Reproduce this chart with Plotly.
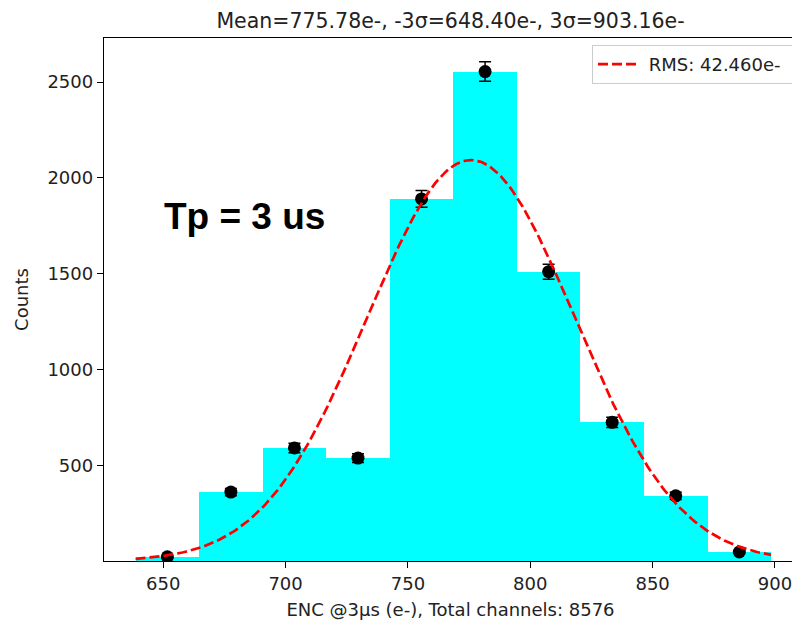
import numpy as np
import plotly.graph_objects as go

# Data
bin_lo = 638.7
bin_width = 25.97
counts = [22, 360, 590, 537, 1890, 2555, 1510, 724, 340, 47]
errors = [4.7, 19.0, 24.3, 23.2, 43.5, 50.5, 38.9, 26.9, 18.4, 6.9]
mean = 775.78
sigma = 42.46
n_total = 8576
x_ticks = [650, 700, 750, 800, 850, 900]
y_ticks = [500, 1000, 1500, 2000, 2500]

centers = [bin_lo + bin_width * (i + 0.5) for i in range(len(counts))]
amp = n_total * bin_width / (sigma * np.sqrt(2 * np.pi))
xf = np.linspace(bin_lo, bin_lo + bin_width * len(counts), 300)
yf = amp * np.exp(-0.5 * ((xf - mean) / sigma) ** 2)

# page body has an 8px default margin; compensate in the layout margins
L, R, T, B = 96, 11, 30, 73
W, H = 800, 626
pw, ph = W - L - R, H - T - B

fig = go.Figure()
fig.add_trace(go.Bar(x=centers, y=counts, width=[bin_width] * len(counts),
                     marker=dict(color="#00FFFF", line=dict(width=0)),
                     showlegend=False, hoverinfo="skip"))
fig.add_trace(go.Scatter(x=centers, y=counts, mode="markers",
                         marker=dict(color="black", size=13),
                         error_y=dict(type="data", array=errors, color="black",
                                      thickness=1.5, width=6),
                         showlegend=False))
fig.add_trace(go.Scatter(x=xf, y=yf, mode="lines",
                         line=dict(color="red", dash="10px,4px", width=2.7),
                         name="\u00a0RMS: 42.460e-\u00a0"))

fig.update_layout(
    width=W, height=H,
    margin=dict(l=L, r=R, t=T, b=B),
    paper_bgcolor="white", plot_bgcolor="white",
    font=dict(family="DejaVu Sans", size=18, color="#222"),
    title=dict(text="Mean=775.78e-, -3σ=648.40e-, 3σ=903.16e-",
               x=0.5, xref="paper", y=1 - 13 / H, yref="container",
               xanchor="center", yanchor="middle", font=dict(size=20.5, color="#222")),
    bargap=0,
    legend=dict(x=(785 - L) / pw, y=1 - 7 / ph, xanchor="right", yanchor="top",
                bgcolor="white", bordercolor="#cccccc", borderwidth=1,
                itemwidth=40,
                font=dict(size=18, color="#222")),
    xaxis=dict(range=[625.8, 909.0], tickvals=x_ticks, showgrid=False, zeroline=False,
               showline=True, linecolor="black", linewidth=1.4, mirror=True,
               ticks="outside", ticklen=6, tickcolor="black",
               tickfont=dict(size=18),
               title=dict(text="ENC @3μs (e-), Total channels: 8576", standoff=10,
                          font=dict(size=18))),
    yaxis=dict(range=[0, 2730], tickvals=y_ticks, showgrid=False, zeroline=False,
               showline=True, linecolor="black", linewidth=1.4, mirror=True,
               ticks="outside", ticklen=6, tickcolor="black",
               tickfont=dict(size=18),
               title=dict(text="Counts", standoff=14, font=dict(size=18))),
)
fig.add_annotation(text="<b>Tp = 3 us</b>", xref="paper", yref="paper",
                   x=(154 - L) / pw, y=(H - B - 209) / ph, xanchor="left", yanchor="middle",
                   showarrow=False, font=dict(family="Liberation Sans", size=37, color="black"))
fig.write_html("out.html")
